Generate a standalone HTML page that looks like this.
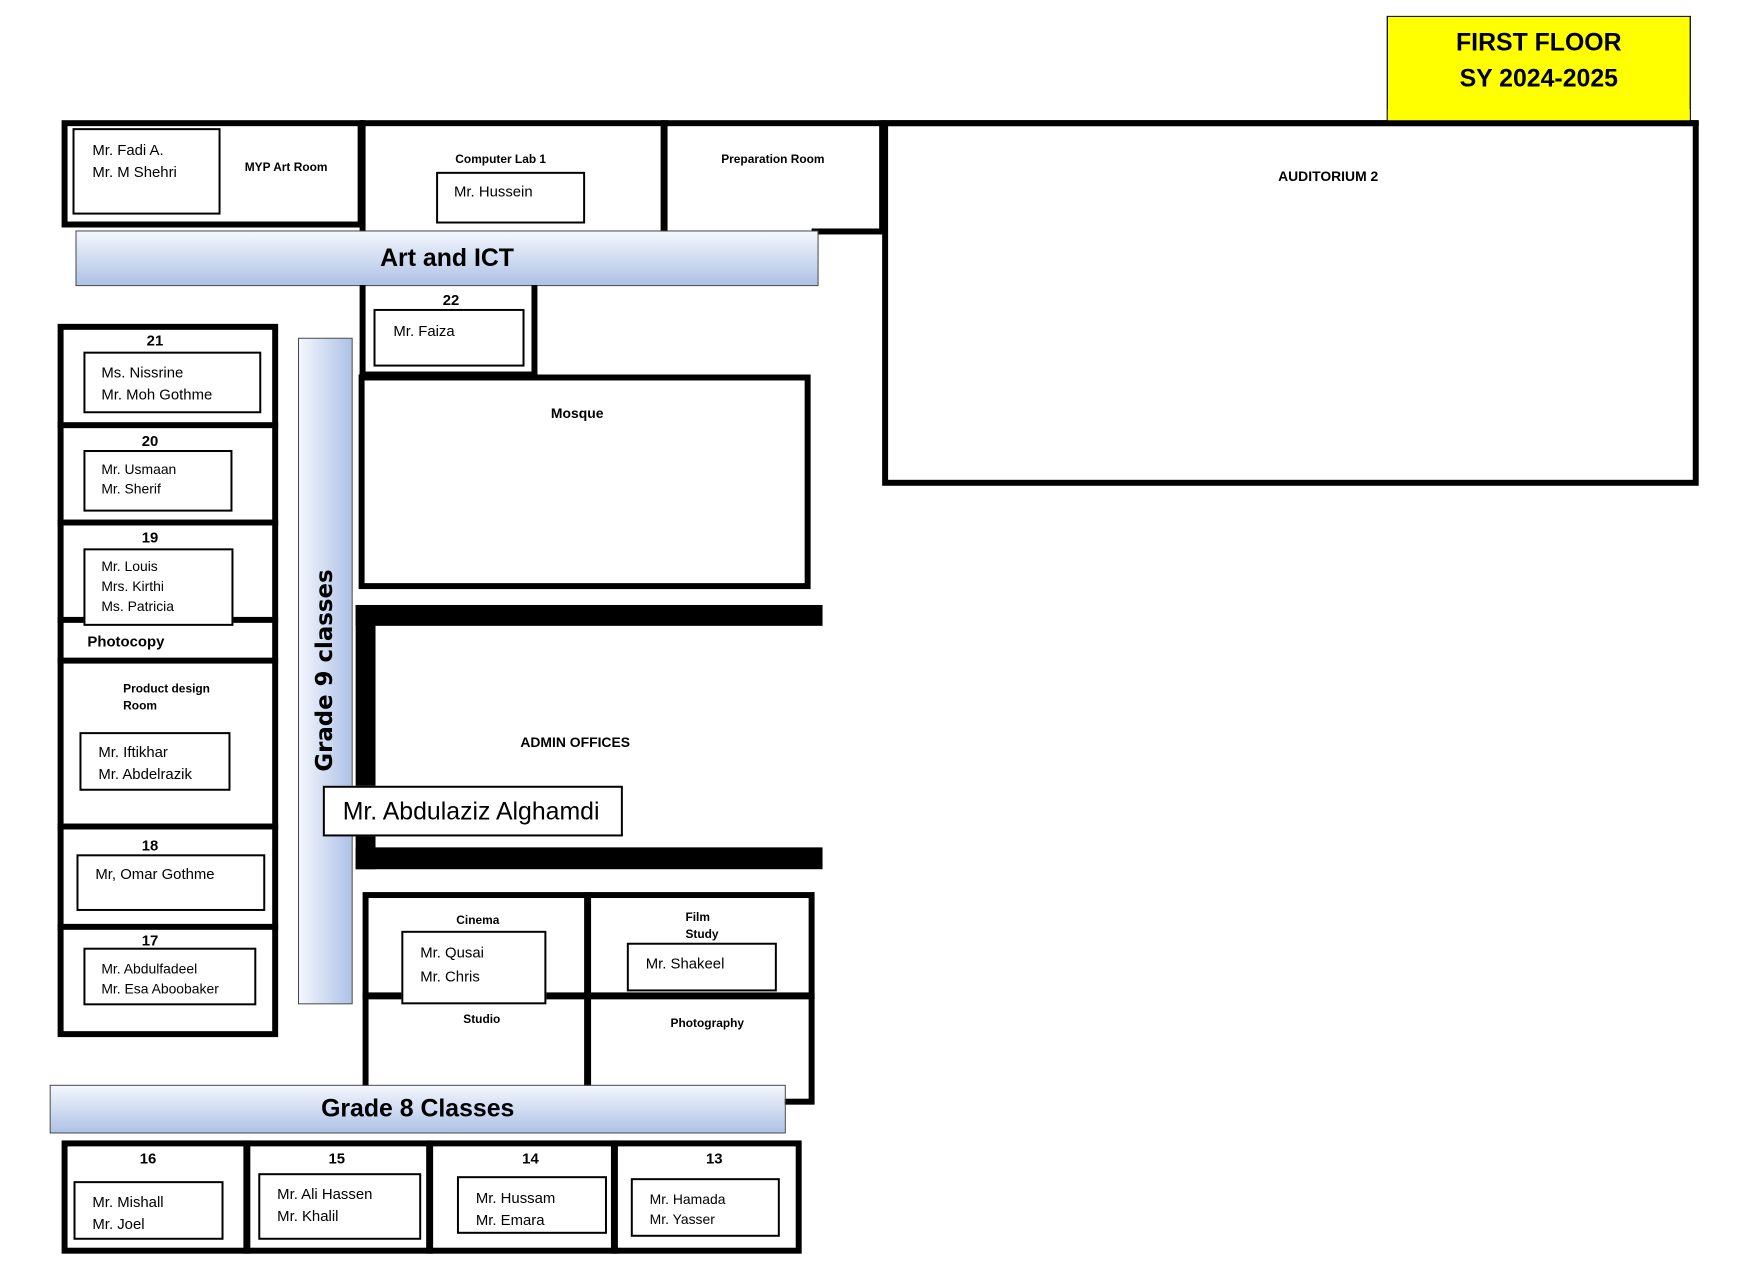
<!DOCTYPE html>
<html><head><meta charset="utf-8">
<style>
body{margin:0;width:1756px;height:1279px;background:#fff;position:relative;overflow:hidden;font-family:"Liberation Sans",sans-serif;color:#000}
#w{position:absolute;left:0;top:0;width:1756px;height:1279px;transform:scale(0.9934);transform-origin:0 0}
div{position:absolute;box-sizing:border-box}
.b{background:#000}
.box{border:2px solid #000;background:#fff}
.t{font-size:15px;line-height:22px;white-space:nowrap}
.s{font-size:12px;font-weight:bold;white-space:nowrap;transform:translateX(-50%)}
.n{font-size:15px;font-weight:bold;transform:translateX(-50%)}
.room{border:6px solid #000}
.hbar{background:linear-gradient(#f4f7fd,#adc2e6);border:1.5px solid #444;text-align:center;font-weight:bold;white-space:nowrap}
</style></head><body><div id="w">

<!-- Title -->
<div style="left:1396px;top:16px;width:306px;height:110px;background:#ff0;border:1.5px solid #000;text-align:center;font-weight:bold;font-size:25px;line-height:36px;padding-top:8px">FIRST FLOOR<br>SY 2024-2025</div>

<!-- Top row -->
<div class="room" style="left:62px;top:121px;width:304px;height:108px"></div>
<div class="box" style="left:73px;top:129px;width:149px;height:87px;padding:10px 0 0 18px"><div class="t" style="position:static">Mr. Fadi A.<br>Mr. M Shehri</div></div>
<div class="s" style="left:288px;top:161px">MYP Art Room</div>

<div class="b" style="left:362px;top:121px;width:1348px;height:6px"></div>
<div class="b" style="left:362px;top:121px;width:6px;height:112px"></div>
<div class="b" style="left:665px;top:121px;width:7px;height:112px"></div>
<div class="b" style="left:885px;top:121px;width:6px;height:115px"></div>
<div class="b" style="left:817px;top:230px;width:72px;height:6px"></div>
<div class="s" style="left:504px;top:153px">Computer Lab 1</div>
<div class="box" style="left:439px;top:173px;width:150px;height:52px;padding:8px 0 0 16px"><div class="t" style="position:static">Mr. Hussein</div></div>
<div class="s" style="left:778px;top:153px">Preparation Room</div>

<!-- Auditorium -->
<div class="room" style="left:888px;top:121px;width:822px;height:368px"></div>
<div class="s" style="left:1337px;top:169px;font-size:14px">AUDITORIUM 2</div>
<div style="left:1396px;top:16px;width:306px;height:110px;border:1.5px solid #000;border-top:none;background:transparent"></div>
<div style="left:1397px;top:110px;width:304px;height:11px;background:#ff0"></div>

<!-- Art and ICT -->
<div class="hbar" style="left:76px;top:232px;width:748px;height:56px;font-size:25px;line-height:54px">Art and ICT</div>

<!-- Room 22 -->
<div class="room" style="left:362px;top:287px;width:179px;height:93px;border-top:none"></div>
<div class="n" style="left:454px;top:294px">22</div>
<div class="box" style="left:376px;top:311px;width:152px;height:58px;padding:10px 0 0 18px"><div class="t" style="position:static">Mr. Faiza</div></div>

<!-- Mosque -->
<div class="room" style="left:361px;top:377px;width:455px;height:216px"></div>
<div class="s" style="left:581px;top:408px;font-size:14px">Mosque</div>

<!-- Admin -->
<div class="b" style="left:358px;top:609px;width:470px;height:21px"></div>
<div class="b" style="left:358px;top:609px;width:20px;height:266px"></div>
<div class="b" style="left:358px;top:853px;width:470px;height:22px"></div>
<div class="s" style="left:579px;top:739px;font-size:14px">ADMIN OFFICES</div>

<!-- Grade 9 bar -->
<div style="left:300px;top:340px;width:55px;height:671px;background:linear-gradient(90deg,#f4f7fd,#adc2e6);border:1.5px solid #444"></div>
<div style="left:327px;top:675px;width:0;height:0"><div style="left:-120px;top:-16px;width:240px;height:32px;transform:rotate(-90deg);font-family:'DejaVu Sans',sans-serif;font-weight:bold;font-size:23px;line-height:32px;text-align:center;white-space:nowrap">Grade 9 classes</div></div>

<div class="box" style="left:325px;top:791px;width:302px;height:51px;padding:8px 0 0 18px"><div style="position:static;font-size:25px;line-height:32px;white-space:nowrap">Mr. Abdulaziz Alghamdi</div></div>

<!-- Left column -->
<div class="room" style="left:58px;top:326px;width:222px;height:718px"></div>
<div class="b" style="left:58px;top:425px;width:222px;height:6px"></div>
<div class="b" style="left:58px;top:523px;width:222px;height:6px"></div>
<div class="b" style="left:58px;top:621px;width:222px;height:6px"></div>
<div class="b" style="left:58px;top:662px;width:222px;height:6px"></div>
<div class="b" style="left:58px;top:829px;width:222px;height:6px"></div>
<div class="b" style="left:58px;top:930px;width:222px;height:6px"></div>

<div class="n" style="left:156px;top:335px">21</div>
<div class="box" style="left:84px;top:354px;width:179px;height:62px;padding:9px 0 0 16px"><div class="t" style="position:static">Ms. Nissrine<br>Mr. Moh Gothme</div></div>
<div class="n" style="left:151px;top:436px">20</div>
<div class="box" style="left:84px;top:453px;width:150px;height:62px;padding:7px 0 0 16px"><div class="t" style="position:static;font-size:14px;line-height:20px">Mr. Usmaan<br>Mr. Sherif</div></div>
<div class="n" style="left:151px;top:533px">19</div>
<div class="box" style="left:84px;top:552px;width:151px;height:78px;padding:6px 0 0 16px"><div class="t" style="position:static;font-size:14px;line-height:20px">Mr. Louis<br>Mrs. Kirthi<br>Ms. Patricia</div></div>
<div style="left:88px;top:638px;font-size:15px;font-weight:bold">Photocopy</div>
<div style="left:124px;top:685px;font-size:12px;font-weight:bold;line-height:17px">Product design<br>Room</div>
<div class="box" style="left:80px;top:737px;width:152px;height:59px;padding:8px 0 0 17px"><div class="t" style="position:static">Mr. Iftikhar<br>Mr. Abdelrazik</div></div>
<div class="n" style="left:151px;top:843px">18</div>
<div class="box" style="left:77px;top:860px;width:190px;height:57px;padding:8px 0 0 17px"><div class="t" style="position:static">Mr, Omar Gothme</div></div>
<div class="n" style="left:151px;top:939px">17</div>
<div class="box" style="left:84px;top:954px;width:174px;height:58px;padding:9px 0 0 16px"><div class="t" style="position:static;font-size:14px;line-height:20px">Mr. Abdulfadeel<br>Mr. Esa Aboobaker</div></div>

<!-- Cinema block -->
<div class="room" style="left:365px;top:898px;width:455px;height:214px"></div>
<div class="b" style="left:588px;top:898px;width:7px;height:200px"></div>
<div class="b" style="left:365px;top:999px;width:455px;height:7px"></div>
<div class="s" style="left:481px;top:919px">Cinema</div>
<div class="box" style="left:404px;top:937px;width:146px;height:74px;padding:9px 0 0 17px"><div class="t" style="position:static;line-height:24px">Mr. Qusai<br>Mr. Chris</div></div>
<div style="left:690px;top:915px;font-size:12px;font-weight:bold;line-height:17px">Film<br>Study</div>
<div class="box" style="left:631px;top:949px;width:151px;height:49px;padding:9px 0 0 17px"><div class="t" style="position:static">Mr. Shakeel</div></div>
<div class="s" style="left:485px;top:1019px">Studio</div>
<div class="s" style="left:712px;top:1023px">Photography</div>

<!-- Grade 8 bar -->
<div class="hbar" style="left:50px;top:1092px;width:741px;height:49px;font-size:25px;line-height:47px">Grade 8 Classes</div>

<!-- Bottom rooms -->
<div class="room" style="left:62px;top:1148px;width:745px;height:114px"></div>
<div class="b" style="left:245px;top:1148px;width:7px;height:114px"></div>
<div class="b" style="left:429px;top:1148px;width:7px;height:114px"></div>
<div class="b" style="left:615px;top:1148px;width:7px;height:114px"></div>
<div class="n" style="left:149px;top:1158px">16</div>
<div class="n" style="left:339px;top:1158px">15</div>
<div class="n" style="left:534px;top:1158px">14</div>
<div class="n" style="left:719px;top:1158px">13</div>
<div class="box" style="left:74px;top:1189px;width:151px;height:59px;padding:9px 0 0 17px"><div class="t" style="position:static">Mr. Mishall<br>Mr. Joel</div></div>
<div class="box" style="left:260px;top:1181px;width:164px;height:67px;padding:9px 0 0 17px"><div class="t" style="position:static">Mr. Ali Hassen<br>Mr. Khalil</div></div>
<div class="box" style="left:460px;top:1184px;width:151px;height:58px;padding:10px 0 0 17px"><div class="t" style="position:static">Mr. Hussam<br>Mr. Emara</div></div>
<div class="box" style="left:635px;top:1186px;width:150px;height:59px;padding:9px 0 0 17px"><div class="t" style="position:static;font-size:14px;line-height:20px">Mr. Hamada<br>Mr. Yasser</div></div>

</div></body></html>
